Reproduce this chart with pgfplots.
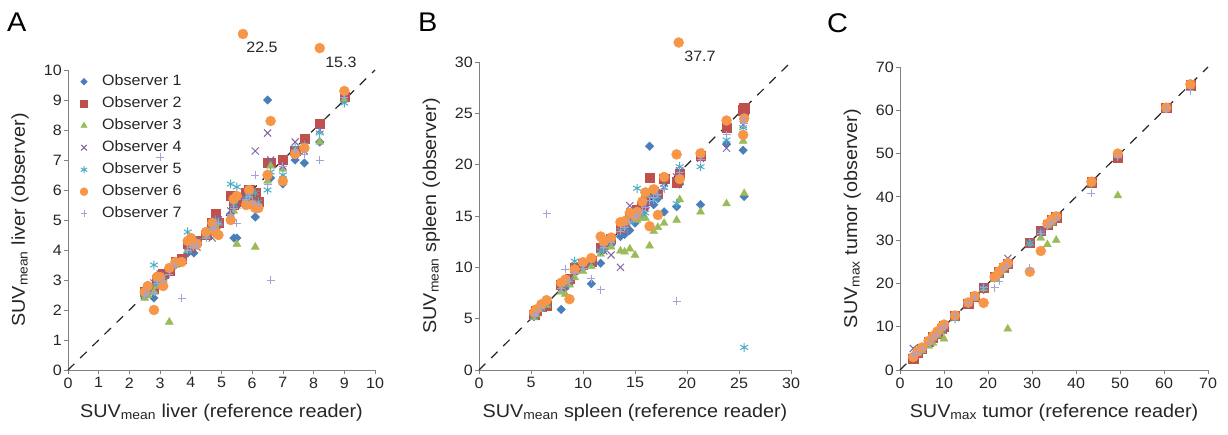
\documentclass[border=0pt]{standalone}
\usepackage{pgfplots}
\pgfplotsset{compat=1.18}
\usepackage{pgfplotstable}
\usepackage{fontspec}
\setmainfont{Liberation Sans}[FakeStretch=1.07]

\definecolor{cA}{HTML}{4A7EBB}
\definecolor{cB}{HTML}{C0504D}
\definecolor{cC}{HTML}{9BBB59}
\definecolor{cD}{HTML}{8064A2}
\definecolor{cE}{HTML}{4BACC6}
\definecolor{cF}{HTML}{F79646}
\definecolor{cG}{HTML}{A3A3DA}

\pgfplotstableread{
x    o1   o2   o3   o4   o5   o6    o7
2.5  2.5  2.6  2.4  2.6  2.5  2.6   2.5
2.6  2.6  2.7  2.5  2.7  2.6  2.8   2.6
2.8  2.4  2.7  2.6  2.9  3.5  2.0   2.6
2.9  2.9  3.0  2.8  3.0  2.9  3.1   2.9
3.0  3.1  3.1  3.0  3.2  3.0  3.1   7.1
3.1  3.0  3.2  3.0  3.1  3.1  2.8   3.0
3.3  3.4  3.3  1.6  3.3  3.4  3.4   3.2
3.5  3.5  3.6  3.5  3.6  3.6  3.6   3.5
3.7  3.6  3.7  3.6  3.7  3.6  3.6   2.4
3.9  3.9  4.2  4.0  4.1  4.6  4.3   4.0
4.0  4.0  4.1  4.1  4.0  4.3  4.4   4.1
4.1  3.9  4.2  4.1  4.3  4.2  4.2   4.1
4.2  4.2  4.3  4.2  4.1  4.3  4.2   4.2
4.5  4.5  4.5  4.5  4.6  4.5  4.6   4.4
4.7  4.8  4.9  4.7  4.4  4.8  4.9   4.7
4.8  4.9  5.2  4.8  5.0  5.0  4.6   4.8
4.9  4.8  4.9  4.9  5.0  4.9  4.5   4.9
5.3  5.2  5.8  5.1  5.3  6.2  5.0   5.2
5.4  4.4  5.5  5.3  5.6  5.5  5.7   5.4
5.5  4.4  5.6  4.2  5.5  6.1  5.8   4.9
5.7  nan  nan  nan  nan  nan  11.2  nan
5.8  5.7  5.9  5.6  5.8  5.7  5.5   5.7
5.9  6.0  6.0  5.8  5.9  5.8  6.0   5.8
6.0  5.6  5.7  5.5  5.6  5.5  5.5   5.6
6.1  5.1  5.9  4.1  7.3  5.9  5.4   6.5
6.2  5.5  5.6  5.4  5.5  5.6  5.4   5.5
6.5  9.0  6.9  6.3  7.9  6.0  6.5   6.2
6.6  6.4  6.9  6.8  7.0  6.6  8.3   3.0
7.0  6.2  7.0  6.7  6.8  6.5  6.3   6.8
7.4  7.0  7.3  7.2  7.6  7.4  7.2   7.3
7.7  6.9  7.7  7.4  7.3  7.5  7.4   7.2
8.2  7.6  8.2  7.6  8.0  7.9  10.73 7.0
9.0  9.0  9.1  9.0  9.2  8.9  9.3   9.1
}\liver

\pgfplotstableread{
x     o1    o2    o3    o4    o5    o6    o7
5.3   5.2   5.4   5.1   5.3   5.2   5.6   5.3
5.5   5.6   5.8   5.4   5.7   5.5   5.9   5.6
6.0   6.1   6.2   5.9   6.0   6.1   6.4   6.0
6.5   6.4   6.3   6.3   6.6   6.5   6.8   15.2
7.9   5.9   8.3   7.6   8.0   8.1   8.5   7.9
8.3   8.0   8.6   7.4   8.2   8.4   8.8   9.8
8.7   8.5   8.9   8.3   8.6   8.8   6.9   8.6
9.2   9.5   10.0  9.0   9.6   10.6  9.8   9.4
10.0  10.1  10.3  9.6   10.2  10.0  10.5  9.9
10.8  8.4   10.6  10.1  10.5  10.6  10.9  8.9
11.7  10.4  11.9  11.3  11.8  11.6  13.0  7.8
12.0  11.7  12.2  11.8  11.6  12.0  12.5  11.9
12.7  12.2  12.8  12.0  11.2  12.5  12.9  12.4
13.6  13.0  13.8  11.6  10.0  13.6  14.4  13.5
14.0  13.2  14.3  11.5  14.0  13.8  14.5  13.9
14.5  13.6  14.9  11.8  16.0  14.4  15.3  14.5
15.0  14.3  15.2  11.2  15.0  14.8  15.0  14.9
15.2  15.0  15.6  14.6  15.4  17.7  15.4  15.1
15.7  15.3  16.0  14.8  15.6  15.2  16.4  15.5
16.0  15.8  16.5  14.8  16.0  15.3  17.3  15.8
16.4  21.8  18.7  12.1  16.2  16.9  14.0  16.5
16.8  16.1  17.4  13.5  17.0  16.6  17.6  16.8
17.2  16.7  17.2  13.9  17.3  16.9  15.1  17.1
17.8  15.4  18.6  14.3  18.2  17.8  18.8  17.6
19.0  15.9  18.3  14.6  18.8  16.2  21.0  6.7
19.2  nan   nan   nan   nan   nan   31.9  nan
19.3  18.1  19.1  16.6  19.4  19.8  18.6  19.2
21.3  16.1  20.9  15.4  20.6  19.8  21.1  20.5
23.8  22.0  23.6  16.2  21.6  22.4  24.3  22.9
25.4  21.4  25.3  22.3  23.9  23.6  22.9  24.4
25.5  16.9  25.5  17.2  24.7  2.2   24.5  24.0
}\spleen

\pgfplotstableread{
x     o1    o2    o3    o4    o5    o6    o7
3.0   3.2   2.6   3.4   5.0   3.1   3.0   3.5
4.0   3.9   4.1   3.8   4.2   4.0   4.3   4.0
5.0   4.9   5.0   4.5   5.1   4.8   5.2   4.9
6.5   6.5   6.6   5.5   6.4   6.3   6.7   6.4
7.5   7.4   7.6   6.2   7.5   7.3   7.8   7.5
8.5   8.6   8.4   8.0   8.7   8.5   8.9   8.3
9.5   9.3   9.6   9.0   9.4   9.5   10.0  9.6
10.0  10.2  10.1  7.2   10.3  10.0  10.5  10.1
12.5  12.4  12.6  12.2  12.5  11.8  12.6  12.5
15.5  15.3  15.4  15.2  15.4  15.5  15.6  15.3
17.0  16.8  17.0  16.6  17.1  16.9  17.1  16.8
19.0  18.6  19.0  18.8  19.3  18.9  15.5  19.0
21.5  21.3  21.6  21.0  21.4  21.2  21.5  19.0
22.5  22.3  22.6  22.0  22.4  22.1  22.8  20.5
23.5  23.3  23.6  23.0  23.4  23.5  23.8  23.2
24.5  24.4  24.5  9.5   25.8  24.2  24.7  24.3
29.5  29.4  29.5  29.2  29.4  29.3  22.7  23.5
32.0  32.1  32.2  30.5  31.9  31.8  27.5  31.5
33.5  33.3  33.6  29.0  33.5  33.4  33.8  33.2
34.5  34.3  34.6  34.0  34.5  34.2  34.8  34.0
35.5  35.2  35.3  30.0  35.4  35.0  35.5  35.1
43.5  43.3  43.4  43.0  43.2  43.1  43.5  40.8
49.5  49.3  49.0  40.3  49.6  49.5  50.0  49.2
60.5  60.4  60.6  60.3  60.5  60.4  60.6  60.2
66.0  65.9  65.8  65.6  65.9  66.1  66.0  64.5
}\tumor

\pgfplotsset{
  panel/.style={
    scale only axis, axis lines*=left,
    axis line style={draw=black!50, line width=0.8pt},
    tick align=outside, major tick length=4pt,
    tick style={draw=black!50, line width=0.8pt},
    clip=false, xmin=0, ymin=0,
    ticklabel style={font=\fontsize{15}{17}\selectfont, text=black!85},
    yticklabel style={inner sep=2pt},
    /pgf/number format/assume math mode=true,
    label style={font=\fontsize{18.5}{20}\selectfont, text=black!85},
    xlabel style={at={(axis description cs:0.5,0)}, anchor=base, yshift=-47pt},
    ylabel style={at={(axis description cs:0,0.5)}, anchor=base, yshift=43pt},
  },
  s1/.style={only marks, mark=square*, mark size=3pt, mark options={rotate=45, fill=cA, draw=cA}},
  s2/.style={only marks, mark=square*, mark size=4.6pt, mark options={fill=cB, draw=cB}},
  s3/.style={only marks, mark=triangle*, mark size=4.6pt, mark options={fill=cC, draw=cC}},
  s4/.style={only marks, mark=x, mark size=5pt, mark options={draw=cD, line width=1pt}},
  s5/.style={only marks, mark=asterisk, mark size=4.5pt, mark options={draw=cE, line width=1pt}},
  s6/.style={only marks, mark=*, mark size=5pt, mark options={fill=cF, draw=cF}},
  s7/.style={only marks, mark=+, mark size=4pt, mark options={draw=cG, line width=0.9pt}},
  diag/.style={black!85, line width=1.2pt, dash pattern=on 9pt off 8pt, mark=none},
}

\begin{document}
\begin{tikzpicture}
\path[use as bounding box] (0,0) rectangle (1228pt,434pt);

\begin{axis}[panel, at={(68pt,64pt)}, anchor=south west,
  width=307pt, height=300pt, xmax=10, ymax=10,
  xtick={0,1,...,10}, ytick={0,1,...,10},
  xlabel={SUV\textsubscript{mean} liver (reference reader)},
  ylabel={SUV\textsubscript{mean} liver (observer)},
  legend image code/.code={\path (-8pt,0pt) (17pt,0pt); \draw[#1, scale=0.8] plot coordinates {(0pt,0pt)};},
  legend style={at={(axis cs:0.15,9.95)}, anchor=north west, draw=none, fill=none,
    font=\fontsize{15}{17}\selectfont, row sep=6pt, text=black!85,
    nodes={inner sep=1pt, text height=11pt, text depth=3pt}},
  legend cell align=left]
\addplot[diag, forget plot] coordinates {(0,0) (10,10)};
\addplot[s1] table[x=x, y=o1] {\liver};
\addplot[s2] table[x=x, y=o2] {\liver};
\addplot[s3] table[x=x, y=o3] {\liver};
\addplot[s4] table[x=x, y=o4] {\liver};
\addplot[s5] table[x=x, y=o5] {\liver};
\addplot[s6] table[x=x, y=o6] {\liver};
\addplot[s7] table[x=x, y=o7] {\liver};
\legend{Observer 1, Observer 2, Observer 3, Observer 4, Observer 5, Observer 6, Observer 7}
\node[font=\fontsize{15}{17}\selectfont, text=black!85] at (axis cs:6.32,10.75) {22.5};
\node[font=\fontsize{15}{17}\selectfont, text=black!85] at (axis cs:8.89,10.27) {15.3};
\end{axis}

\begin{axis}[panel, at={(479pt,64pt)}, anchor=south west,
  width=312pt, height=308pt, xmax=30, ymax=30,
  xtick={0,5,...,30}, ytick={0,5,...,30},
  xlabel={SUV\textsubscript{mean} spleen (reference reader)},
  ylabel={SUV\textsubscript{mean} spleen (observer)}]
\addplot[diag] coordinates {(0,0) (30,30)};
\addplot[s1] table[x=x, y=o1] {\spleen};
\addplot[s2] table[x=x, y=o2] {\spleen};
\addplot[s3] table[x=x, y=o3] {\spleen};
\addplot[s4] table[x=x, y=o4] {\spleen};
\addplot[s5] table[x=x, y=o5] {\spleen};
\addplot[s6] table[x=x, y=o6] {\spleen};
\addplot[s7] table[x=x, y=o7] {\spleen};
\node[font=\fontsize{15}{17}\selectfont, text=black!85] at (axis cs:21.25,30.58) {37.7};
\end{axis}

\begin{axis}[panel, at={(900pt,64pt)}, anchor=south west,
  width=308pt, height=303pt, xmax=70, ymax=70,
  xtick={0,10,...,70}, ytick={0,10,...,70},
  xlabel={SUV\textsubscript{max} tumor (reference reader)},
  ylabel={SUV\textsubscript{max} tumor (observer)}]
\addplot[diag] coordinates {(0,0) (70,70)};
\addplot[s1] table[x=x, y=o1] {\tumor};
\addplot[s2] table[x=x, y=o2] {\tumor};
\addplot[s3] table[x=x, y=o3] {\tumor};
\addplot[s4] table[x=x, y=o4] {\tumor};
\addplot[s5] table[x=x, y=o5] {\tumor};
\addplot[s6] table[x=x, y=o6] {\tumor};
\addplot[s7] table[x=x, y=o7] {\tumor};
\end{axis}

\node[anchor=north west, inner sep=0pt, font=\fontsize{27}{27}\selectfont] at (7pt,421pt) {A};
\node[anchor=north west, inner sep=0pt, font=\fontsize{27}{27}\selectfont] at (418pt,421pt) {B};
\node[anchor=north west, inner sep=0pt, font=\fontsize{27}{27}\selectfont] at (827pt,421pt) {C};
\end{tikzpicture}
\end{document}
